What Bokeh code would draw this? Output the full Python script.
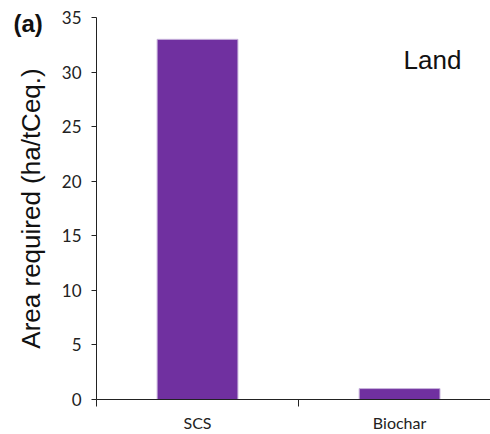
from bokeh.plotting import figure
from bokeh.models import Range1d, FixedTicker, Label, Title
from bokeh.embed import file_html
from bokeh.resources import INLINE

categories = ["SCS", "Biochar"]
values = [33.0, 1.0]
y_ticks = [0, 5, 10, 15, 20, 25, 30, 35]
y_label = "Area required (ha/tCeq.)"
panel_tag = "(a)"
panel_title = "Land"

xs = [i + 0.5 for i in range(len(categories))]

p = figure(width=490, height=434, output_backend="svg", toolbar_location=None,
           x_range=Range1d(0, 1.95), y_range=Range1d(0, 35),
           min_border_left=96, min_border_right=0, min_border_top=17, min_border_bottom=34)
p.outline_line_color = None
p.grid.visible = False
p.background_fill_color = "white"

p.vbar(x=xs, top=values, width=0.4, fill_color="#7030A0", line_color="#c8b4dc", line_width=1)

# x axis
p.xaxis.ticker = FixedTicker(ticks=xs, minor_ticks=list(range(len(categories) + 1)))
p.xaxis.major_label_overrides = {x: c for x, c in zip(xs, categories)}
p.xaxis.major_tick_out = 0
p.xaxis.major_tick_in = 0
p.xaxis.minor_tick_out = 7
p.xaxis.minor_tick_in = 0
p.xaxis.minor_tick_line_color = "#222222"
p.xaxis.axis_line_color = "#222222"
p.xaxis.major_label_text_font = "Lato"
p.xaxis.major_label_text_font_size = "16px"
p.xaxis.major_label_text_color = "#222222"
p.xaxis.major_label_standoff = 6

# y axis
p.yaxis.ticker = FixedTicker(ticks=y_ticks)
p.yaxis.minor_tick_line_color = None
p.yaxis.major_tick_out = 5
p.yaxis.major_tick_in = 0
p.yaxis.major_tick_line_color = "#222222"
p.yaxis.axis_line_color = "#222222"
p.yaxis.major_label_text_font = "Lato"
p.yaxis.major_label_text_font_size = "17px"
p.yaxis.major_label_text_color = "#222222"
p.yaxis.major_label_standoff = 10
p.yaxis.axis_label = y_label
p.yaxis.axis_label_text_font = "Liberation Sans"
p.yaxis.axis_label_text_font_style = "normal"
p.yaxis.axis_label_text_font_size = "26px"
p.yaxis.axis_label_text_color = "#111111"
p.yaxis.axis_label_standoff = 13

p.add_layout(Label(x=1.52, y=32.5, text=panel_title, text_font="Liberation Sans",
                   text_font_size="26px", text_baseline="top", text_color="#111111"))
p.add_layout(Title(text=panel_tag, align="left", offset=-83, standoff=-38,
                   vertical_align="bottom", text_font="Liberation Sans",
                   text_font_style="bold", text_font_size="24px",
                   text_color="#111111"), "above")

open("out.html", "w").write(file_html(p, INLINE))
